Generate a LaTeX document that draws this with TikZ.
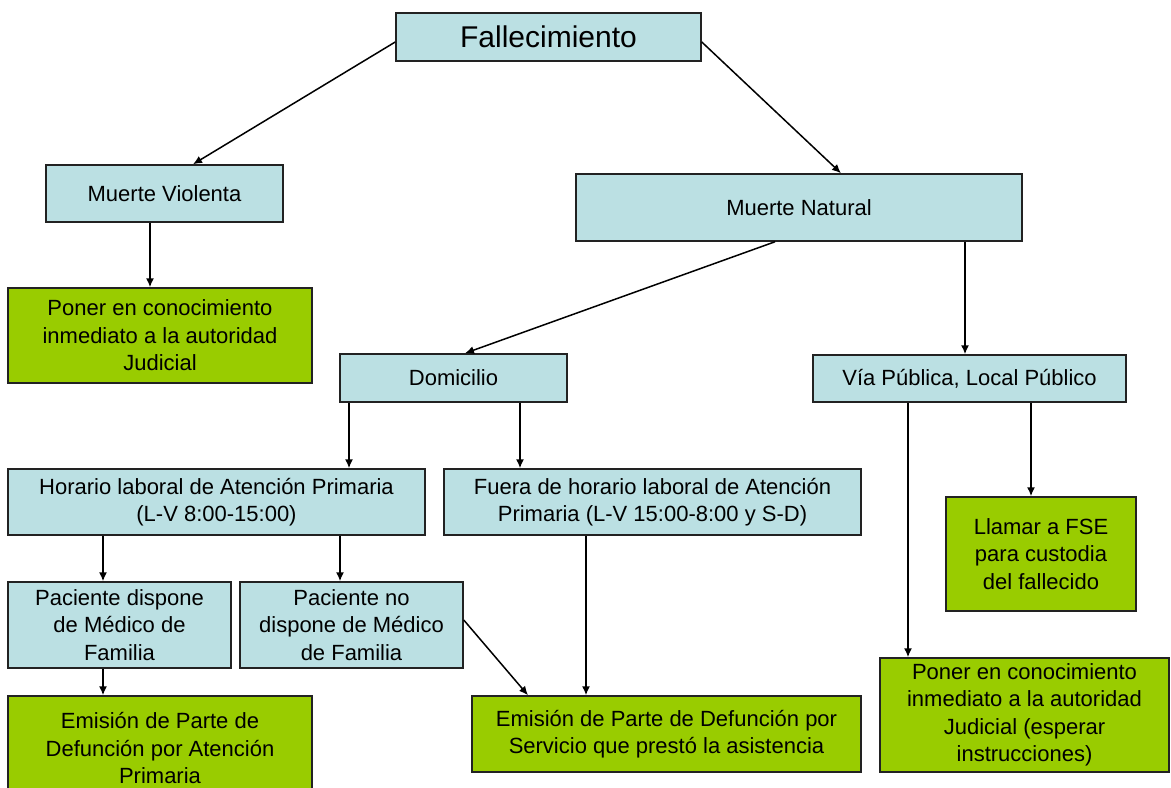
\documentclass[tikz,border=0pt]{standalone}
\usepackage{fontspec}
\setmainfont{Liberation Sans}
\usetikzlibrary{arrows.meta}
\definecolor{paleblue}{HTML}{BBE0E3}
\definecolor{leafgreen}{HTML}{99CC00}
\definecolor{rim}{HTML}{222222}
\tikzset{
    stage/.style={draw=rim, line width=0.75pt, fill=paleblue, inner sep=0pt, align=center,
        font=\fontsize{11}{13.75}\selectfont},
    action/.style={stage, fill=leafgreen},
    link/.style={line width=0.75pt, -{Latex[length=4.5pt, width=4pt]}}
}
\begin{document}
\begin{tikzpicture}[x=0.5pt, y=-0.5pt]
        \useasboundingbox (0,0) rectangle (1171,787);
        % first level
        \node[stage, minimum width=152.5pt, minimum height=24pt, font=\fontsize{15}{18}\selectfont] (fal) at (548.5,37) {Fallecimiento};
        \node[stage, minimum width=118.5pt, minimum height=28.5pt] (mv) at (164.5,193.5) {Muerte Violenta};
        \node[stage, minimum width=223pt, minimum height=33.5pt] (mn) at (799,207.5) {Muerte Natural};
        \node[action, minimum width=152pt, minimum height=47.5pt] (pj1) at (160,335.5) {Poner en conocimiento\\inmediato a la autoridad\\Judicial};
        % natural death
        \node[stage, minimum width=113.5pt, minimum height=24pt] (dom) at (453.5,378) {Domicilio};
        \node[stage, minimum width=156.5pt, minimum height=23.5pt] (via) at (969.5,378.5) {Vía Pública, Local Público};
        \node[stage, minimum width=208.5pt, minimum height=33pt] (hor) at (216.5,502) {Horario laboral de Atención Primaria\\(L-V 8:00-15:00)};
        \node[stage, minimum width=208.5pt, minimum height=33pt] (fue) at (652.5,502) {Fuera de horario laboral de Atención\\Primaria (L-V 15:00-8:00 y S-D)};
        \node[stage, minimum width=111.5pt, minimum height=43pt] (pd) at (119.5,625) {Paciente dispone\\de Médico de\\Familia};
        \node[stage, minimum width=111.5pt, minimum height=43pt] (pnd) at (351.5,625) {Paciente no\\dispone de Médico\\de Familia};
        % outcomes
        \node[action, minimum width=152pt, minimum height=52pt] (em1) at (160,748) {Emisión de Parte de\\Defunción por Atención\\Primaria};
        \node[action, minimum width=194.5pt, minimum height=38pt] (em2) at (666.5,734) {Emisión de Parte de Defunción por\\Servicio que prestó la asistencia};
        \node[action, minimum width=95pt, minimum height=57pt] (fse) at (1041,554) {Llamar a FSE\\para custodia\\del fallecido};
        \node[action, minimum width=144.5pt, minimum height=57pt] (pj2) at (1024.5,715) {Poner en conocimiento\\inmediato a la autoridad\\Judicial (esperar\\instrucciones)};
        % arrows
        \draw[link] ([yshift=-2.5pt]fal.west) -- ([xshift=14.25pt]mv.north);
        \draw[link] ([yshift=-2.5pt]fal.east) -- ([xshift=21pt]mn.north);
        \draw[link] ([xshift=-7.25pt]mv.south) -- ([xshift=-5pt]pj1.north);
        \draw[link] ([xshift=-12pt]mn.south) -- ([xshift=5.75pt]dom.north);
        \draw[link] ([xshift=83pt]mn.south) -- ([xshift=-2.25pt]via.north);
        \draw[link] ([xshift=-52.25pt]dom.south) -- ([xshift=66.25pt]hor.north);
        \draw[link] ([xshift=33.25pt]dom.south) -- ([xshift=-66.25pt]fue.north);
        \draw[link] ([xshift=-56.75pt]hor.south) -- ([xshift=-8.25pt]pd.north);
        \draw[link] ([xshift=61.75pt]hor.south) -- ([xshift=-5.75pt]pnd.north);
        \draw[link] ([xshift=-8.25pt]pd.south) -- ([xshift=-28.5pt]em1.north);
        \draw[link] ([yshift=2.5pt]pnd.east) -- ([xshift=-69.25pt]em2.north);
        \draw[link] ([xshift=-33.25pt]fue.south) -- ([xshift=-40.25pt]em2.north);
        \draw[link] ([xshift=-30.75pt]via.south) -- ([xshift=-58.25pt]pj2.north);
        \draw[link] ([xshift=30.75pt]via.south) -- ([xshift=-5pt]fse.north);
\end{tikzpicture}
\end{document}
